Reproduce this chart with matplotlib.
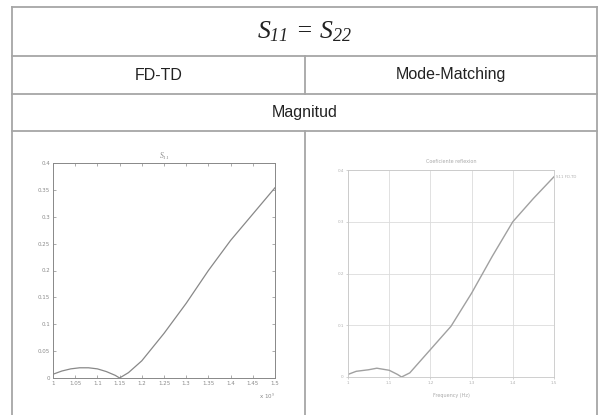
"""Table with two S11 magnitude plots (FD-TD vs Mode-Matching)."""

import matplotlib
matplotlib.use("Agg")
import matplotlib.pyplot as plt
from matplotlib.lines import Line2D
from matplotlib.ticker import FuncFormatter

# ---------------------------------------------------------------------------
# Data
# ---------------------------------------------------------------------------
FDTD_FREQ = [1.00, 1.02, 1.04, 1.06, 1.08, 1.10, 1.12, 1.14, 1.15, 1.17,
             1.20, 1.25, 1.30, 1.35, 1.40, 1.45, 1.50]          # x 1e9 Hz
FDTD_MAG = [0.007, 0.013, 0.017, 0.019, 0.019, 0.017, 0.012, 0.005, 0.0,
            0.010, 0.032, 0.083, 0.139, 0.200, 0.256, 0.305, 0.354]

MM_FREQ = [1.00, 1.02, 1.05, 1.07, 1.10, 1.12, 1.13, 1.15, 1.20, 1.25,
           1.30, 1.35, 1.40, 1.45, 1.50]
MM_MAG = [0.005, 0.011, 0.014, 0.017, 0.013, 0.005, 0.0, 0.008, 0.053,
          0.098, 0.162, 0.233, 0.300, 0.345, 0.387]

FDTD_XTICKS = [1.0, 1.05, 1.1, 1.15, 1.2, 1.25, 1.3, 1.35, 1.4, 1.45, 1.5]
FDTD_YTICKS = [0, 0.05, 0.1, 0.15, 0.2, 0.25, 0.3, 0.35, 0.4]
MM_XTICKS = [1.0, 1.1, 1.2, 1.3, 1.4, 1.5]
MM_YTICKS = [0, 0.1, 0.2, 0.3, 0.4]

HEADER = r"$S_{11}\,=\,S_{22}$"
COL_LABELS = ["FD-TD", "Mode-Matching"]
ROW_LABEL = "Magnitud"

# ---------------------------------------------------------------------------
# Layout (pixels)
# ---------------------------------------------------------------------------
W, H = 598, 415
LEFT, RIGHT, TOP = 12, 597, 7
ROWS = [56, 94, 131]
MID = 305
LINE_C = "#a6a6a6"
PLOT_C = "#888888"
TEXT_C = "#8a8a8a"

plt.rcParams["mathtext.fontset"] = "custom"
plt.rcParams["mathtext.rm"] = "Liberation Serif:italic"
plt.rcParams["mathtext.it"] = "Liberation Serif:italic"


def px(x, y):
    return x / W, 1 - y / H


def hline(fig, y, x0=LEFT, x1=RIGHT):
    fig.add_artist(Line2D([x0 / W, x1 / W], [1 - y / H] * 2,
                          color=LINE_C, lw=1.3))


def vline(fig, x, y0, y1):
    fig.add_artist(Line2D([x / W] * 2, [1 - y0 / H, 1 - y1 / H],
                          color=LINE_C, lw=1.3))


def add_ax(fig, x0, y0, x1, y1):
    return fig.add_axes([x0 / W, 1 - y1 / H, (x1 - x0) / W, (y1 - y0) / H])


def main() -> None:
    fig = plt.figure(figsize=(W / 100, H / 100), dpi=100)

    # table grid
    hline(fig, TOP)
    for y in ROWS:
        hline(fig, y)
    vline(fig, LEFT, TOP, H)
    vline(fig, RIGHT, TOP, H)
    vline(fig, MID, ROWS[0], ROWS[1])
    vline(fig, MID, ROWS[2], H)

    fig.text(*px((LEFT + RIGHT) / 2, 31), HEADER, fontsize=18.5,
             ha="center", va="center", color="#222222")
    fig.text(*px((LEFT + MID) / 2, 75), COL_LABELS[0], fontsize=11.5,
             family="Liberation Sans", ha="center", va="center", color="#222222")
    fig.text(*px((MID + RIGHT) / 2, 75), COL_LABELS[1], fontsize=11.5,
             family="Liberation Sans", ha="center", va="center", color="#222222")
    fig.text(*px((LEFT + RIGHT) / 2, 112), ROW_LABEL, fontsize=11.5,
             family="Liberation Sans", ha="center", va="center", color="#222222")

    gfmt = FuncFormatter(lambda v, _: f"{v:g}")

    # FD-TD plot (MATLAB style)
    ax1 = add_ax(fig, 53, 163, 275, 378)
    ax1.plot(FDTD_FREQ, FDTD_MAG, color=PLOT_C, lw=0.9)
    ax1.set_xlim(1.0, 1.5)
    ax1.set_ylim(0, 0.4)
    ax1.set_xticks(FDTD_XTICKS)
    ax1.set_yticks(FDTD_YTICKS)
    ax1.xaxis.set_major_formatter(gfmt)
    ax1.yaxis.set_major_formatter(gfmt)
    ax1.tick_params(direction="in", top=True, right=True, length=2,
                    width=0.5, labelsize=4, colors=TEXT_C, pad=2)
    for s in ax1.spines.values():
        s.set_color(PLOT_C)
        s.set_linewidth(0.7)
    ax1.set_title(r"$\mathrm{S}_{11}$", fontsize=5.5, color=TEXT_C, pad=3,
                  family="DejaVu Sans")
    ax1.text(1.0, -0.085, r"x 10$^9$", transform=ax1.transAxes,
             fontsize=4, color=TEXT_C, ha="right", va="center",
             family="DejaVu Sans")

    # Mode-Matching plot (gridded)
    ax2 = add_ax(fig, 348, 170, 554, 377)
    ax2.plot(MM_FREQ, MM_MAG, color="#a0a0a0", lw=1.0)
    ax2.set_xlim(1.0, 1.5)
    ax2.set_ylim(0, 0.4)
    ax2.set_xticks(MM_XTICKS)
    ax2.set_yticks(MM_YTICKS)
    ax2.xaxis.set_major_formatter(gfmt)
    ax2.yaxis.set_major_formatter(gfmt)
    ax2.grid(True, color="#dcdcdc", lw=0.6)
    ax2.tick_params(length=1.5, width=0.4, labelsize=3, colors="#b0b0b0", pad=1.5)
    for s in ax2.spines.values():
        s.set_color("#c8c8c8")
        s.set_linewidth(0.6)
    ax2.set_title("Coeficiente reflexion", fontsize=3.5, color="#aaaaaa", pad=5)
    ax2.set_xlabel("Frequency (Hz)", fontsize=3.5, color="#aaaaaa", labelpad=6)
    ax2.text(1.01, 0.387, "S11 FD-TD", transform=ax2.get_yaxis_transform(),
             fontsize=2.8, color="#b0b0b0", va="center")

    fig.savefig("out.png", dpi=100)
    plt.close(fig)


if __name__ == "__main__":
    main()
